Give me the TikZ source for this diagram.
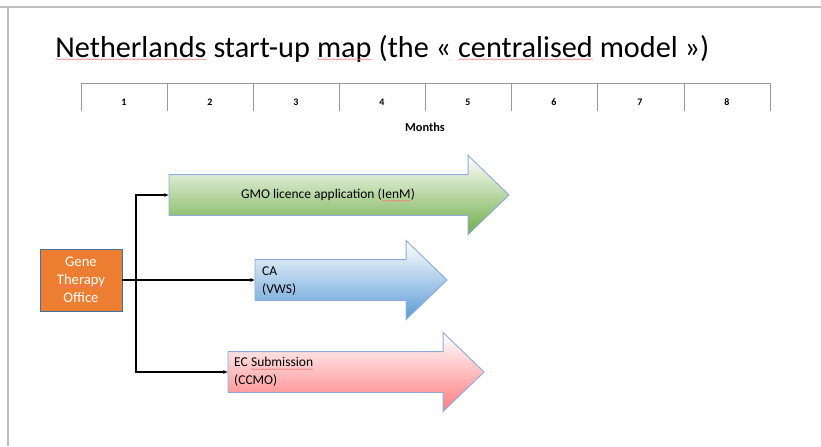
\documentclass[tikz,border=0pt]{standalone}
\usepackage{fontspec}
\setmainfont{Carlito}
\usetikzlibrary{shapes.arrows,arrows.meta,decorations.pathmorphing}

\definecolor{officeorange}{HTML}{ED7D31}
\definecolor{officeedge}{HTML}{41719C}
\definecolor{arrowedge}{HTML}{8FAADC}
\definecolor{gmogreen}{HTML}{70AD47}
\definecolor{cablue}{HTML}{5B9BD5}
\definecolor{ecred}{HTML}{FF7C80}
\definecolor{framegray}{HTML}{BFBFBF}

% red wavy spell-check underline
\newcommand{\spellmark}[1]{\tikz[baseline=(w.base),x=1cm,y=1cm]{\node[inner sep=0pt,outer sep=0pt,
  minimum width=0pt,minimum height=0pt,anchor=base] (w) at (0,0) {#1};
  \draw[red!55, line width=0.4pt, decorate, decoration={snake, segment length=2.5pt, amplitude=0.5pt}]
  ([yshift=-2pt]w.base west) -- ([yshift=-2pt]w.base east);}}

\tikzset{
  tick/.style={draw=gray!80, line width=0.8pt},
  month/.style={font=\bfseries\fontsize{8.5}{10}\selectfont},
  phase/.style={single arrow, draw=arrowedge, line width=0.8pt, inner xsep=0pt,
    inner ysep=0.6cm, single arrow head extend=0.57cm, single arrow head indent=0pt,
    single arrow tip angle=88, outer sep=0pt},
  phasetext/.style={font=\fontsize{11.5}{15}\selectfont, align=left, inner sep=0pt},
  conn/.style={draw=black, line width=1pt, -{Latex[length=4pt,width=3.5pt]}}
}

\begin{document}
\begin{tikzpicture}[x=0.03cm,y=-0.03cm]
\useasboundingbox (0,0) rectangle (821,446);
% frame of the slide
\draw[framegray, line width=1.5pt] (0,7) -- (821,7);
\draw[framegray, line width=1.5pt] (8,7) -- (8,446);

\node[anchor=base west, inner sep=0pt, font=\fontsize{25.8}{30}\selectfont] (title) at (55,57)
  {\spellmark{Netherlands} start-up \spellmark{map} (the « \spellmark{centralised} model »)};

% timeline
\draw[tick] (81,83) -- (770,83);
\draw[tick] (81,83) -- (81,111) (167,83) -- (167,111) (253,83) -- (253,111)
  (339,83) -- (339,111) (425,83) -- (425,111) (511,83) -- (511,111)
  (597,83) -- (597,111) (684,83) -- (684,111) (770,83) -- (770,111);
\node[month] (m1) at (124,102) {1};
\node[month] (m2) at (210,102) {2};
\node[month] (m3) at (296,102) {3};
\node[month] (m4) at (382,102) {4};
\node[month] (m5) at (468,102) {5};
\node[month] (m6) at (554,102) {6};
\node[month] (m7) at (640,102) {7};
\node[month] (m8) at (727,102) {8};
\node[font=\bfseries\fontsize{10.5}{12}\selectfont] (months) at (425,127) {Months};

% the three routes
\node[phase, minimum height=10.2cm, minimum width=2.34cm, top color=white, bottom color=gmogreen,
  anchor=tail] (gmo) at (169,195) {};
\node[phase, minimum height=5.76cm, minimum width=2.34cm, top color=white, bottom color=cablue,
  anchor=tail] (ca) at (255,280) {};
\node[phase, minimum height=7.68cm, minimum width=2.34cm, top color=white, bottom color=ecred,
  anchor=tail] (ec) at (228,372) {};
\node[phasetext] (gmotext) at (328,195) {GMO licence application (\spellmark{IenM})};
\node[phasetext, anchor=west] (catext) at (262,281) {CA\\(VWS)};
\node[phasetext, anchor=west] (ectext) at (234,372) {EC \spellmark{Submission}\\(CCMO)};

\node[draw=officeedge, fill=officeorange, line width=0.8pt, text=white, align=center,
  minimum width=2.46cm, minimum height=1.86cm, inner sep=1pt,
  font=\fontsize{12.5}{15.5}\selectfont] (office) at (81,280) {Gene\\\spellmark{Therapy}\\Office};

\coordinate (split) at (136,280);
\draw[conn] (office.east) -- (ca.tail);
\draw[conn] (split) |- (gmo.tail);
\draw[conn] (split) |- (ec.tail);
\end{tikzpicture}
\end{document}
